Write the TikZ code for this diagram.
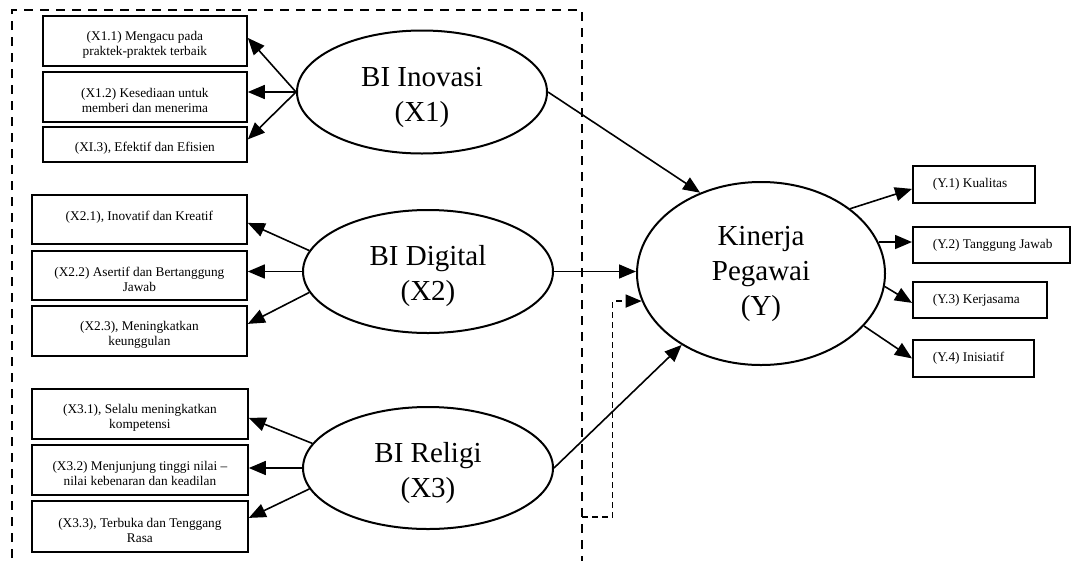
\documentclass[tikz,border=0pt]{standalone}
\usepackage{fontspec}
\setmainfont{Liberation Serif}
\usetikzlibrary{shapes.geometric,arrows.meta}
\newcommand\smallfnt{\fontsize{13.3}{15}\selectfont}
\newcommand\bigfnt{\fontsize{29}{35}\selectfont}
\newcommand\ytext[2]{\makebox[#1pt][l]{#2}}
% extra head room on the first line lowers a node's text a little
\newcommand\lowerA{\rule{0pt}{17pt}}
\newcommand\lowerB{\rule{0pt}{30pt}}

\begin{document}
\begin{tikzpicture}[x=1pt,y=-1pt,
  ind/.style={draw, line width=1.8pt, align=center, anchor=north west,
    inner sep=2pt, font=\smallfnt},
  ybox/.style={draw, line width=1.8pt, anchor=north west, inner xsep=20pt,
    inner ysep=0pt, font=\smallfnt},
  lat/.style={ellipse, draw, line width=2pt, align=center, inner sep=0pt,
    font=\bigfnt},
  arr/.style={-{Triangle[length=17pt,width=14pt]}, line width=1.6pt},
  frame/.style={line width=2pt, dash pattern=on 9pt off 7pt},
  dasharr/.style={-{Triangle[length=16pt,width=13pt]}, line width=1.5pt,
    dash pattern=on 6pt off 4pt}]
\clip (0,0) rectangle (1073,560);

% dashed frame round the three independent constructs
\draw[frame] (12,590) -- (12,10) -- (582,10) -- (582,590);
\coordinate (tap) at (582,517);

% latent variables
\node[lat, minimum width=250pt, minimum height=123pt] (x1) at (422,92) {\lowerB BI Inovasi\\(X1)};
\node[lat, minimum width=250pt, minimum height=123pt] (x2) at (428,271.5) {\lowerB BI Digital\\(X2)};
\node[lat, minimum width=250pt, minimum height=122pt] (x3) at (428,468) {\lowerB BI Religi\\(X3)};
\node[lat, minimum width=248pt, minimum height=183pt] (y) at (761,273.5) {Kinerja\\Pegawai\\(Y)};

% indicators of X1
\node[ind, minimum width=204pt, minimum height=50pt] (b11) at (42,15) {\lowerA(X1.1) Mengacu pada\\praktek-praktek terbaik};
\node[ind, minimum width=204pt, minimum height=50pt] (b12) at (42,71) {\lowerA(X1.2) Kesediaan untuk\\memberi dan menerima};
\node[ind, minimum width=204pt, minimum height=35pt] (b13) at (42,126) {\lowerA(XI.3), Efektif dan Efisien};

% indicators of X2
\node[ind, minimum width=215pt, minimum height=49pt] (b21) at (31,194) {\lowerA(X2.1), Inovatif dan Kreatif\\\mbox{}};
\node[ind, minimum width=215pt, minimum height=49pt] (b22) at (31,250) {\lowerA(X2.2) Asertif dan Bertanggung\\Jawab};
\node[ind, minimum width=215pt, minimum height=50pt] (b23) at (31,305) {\lowerA(X2.3), Meningkatkan\\keunggulan};

% indicators of X3
\node[ind, minimum width=216pt, minimum height=50pt] (b31) at (31,388) {\lowerA(X3.1), Selalu meningkatkan\\kompetensi};
\node[ind, minimum width=216pt, minimum height=50pt] (b32) at (31,444) {\lowerA(X3.2) Menjunjung tinggi nilai –\\nilai kebenaran dan keadilan};
\node[ind, minimum width=216pt, minimum height=51pt] (b33) at (31,500) {\lowerA(X3.3), Terbuka dan Tenggang\\Rasa};

% indicators of Y
\node[ybox, minimum height=37pt] (y1) at (912,165) {\ytext{82}{(Y.1) Kualitas}};
\node[ybox, minimum height=36pt] (y2) at (912,226) {\ytext{117}{(Y.2) Tanggung Jawab}};
\node[ybox, minimum height=36pt] (y3) at (912,281) {\ytext{94}{(Y.3) Kerjasama}};
\node[ybox, minimum height=37pt] (y4) at (912,339) {\ytext{81}{(Y.4) Inisiatif}};

% loadings of X1
\draw[arr] (x1.west) -- ([yshift=3pt]b11.east);
\draw[arr] (x1.west) -- (x1.west -| b12.east);
\draw[arr] (x1.west) -- ([yshift=5pt]b13.east);

% loadings of X2
\draw[arr] (x2.170) -- ([yshift=-3.5pt]b21.east);
\draw[arr] (x2.west) -- (x2.west -| b22.east);
\draw[arr] (x2.190) -- ([yshift=7pt]b23.east);

% loadings of X3
\draw[arr] (x3.168) -- ([yshift=-4pt]b31.east);
\draw[arr] (x3.west) -- (x3.west -| b32.east);
\draw[arr] (x3.190) -- ([yshift=8.5pt]b33.east);

% structural paths
\draw[arr] (x1.east) -- (y.127);
\draw[arr] (x2.east) -- (x2.east -| y.west);
\draw[arr] (x3.east) -- (y.222);
\draw[dasharr] (tap) -| ([xshift=-29pt]y.193) -- (y.193);

% loadings of Y
\draw[arr] (y.36) -- ([yshift=-4.5pt]y1.west);
\draw[arr] (y.15) -- (y.15 -| y2.west);
\draw[arr] (y.-6) -- ([yshift=-3pt]y3.west);
\draw[arr] (y.-27) -- (y4.west);
\end{tikzpicture}
\end{document}
